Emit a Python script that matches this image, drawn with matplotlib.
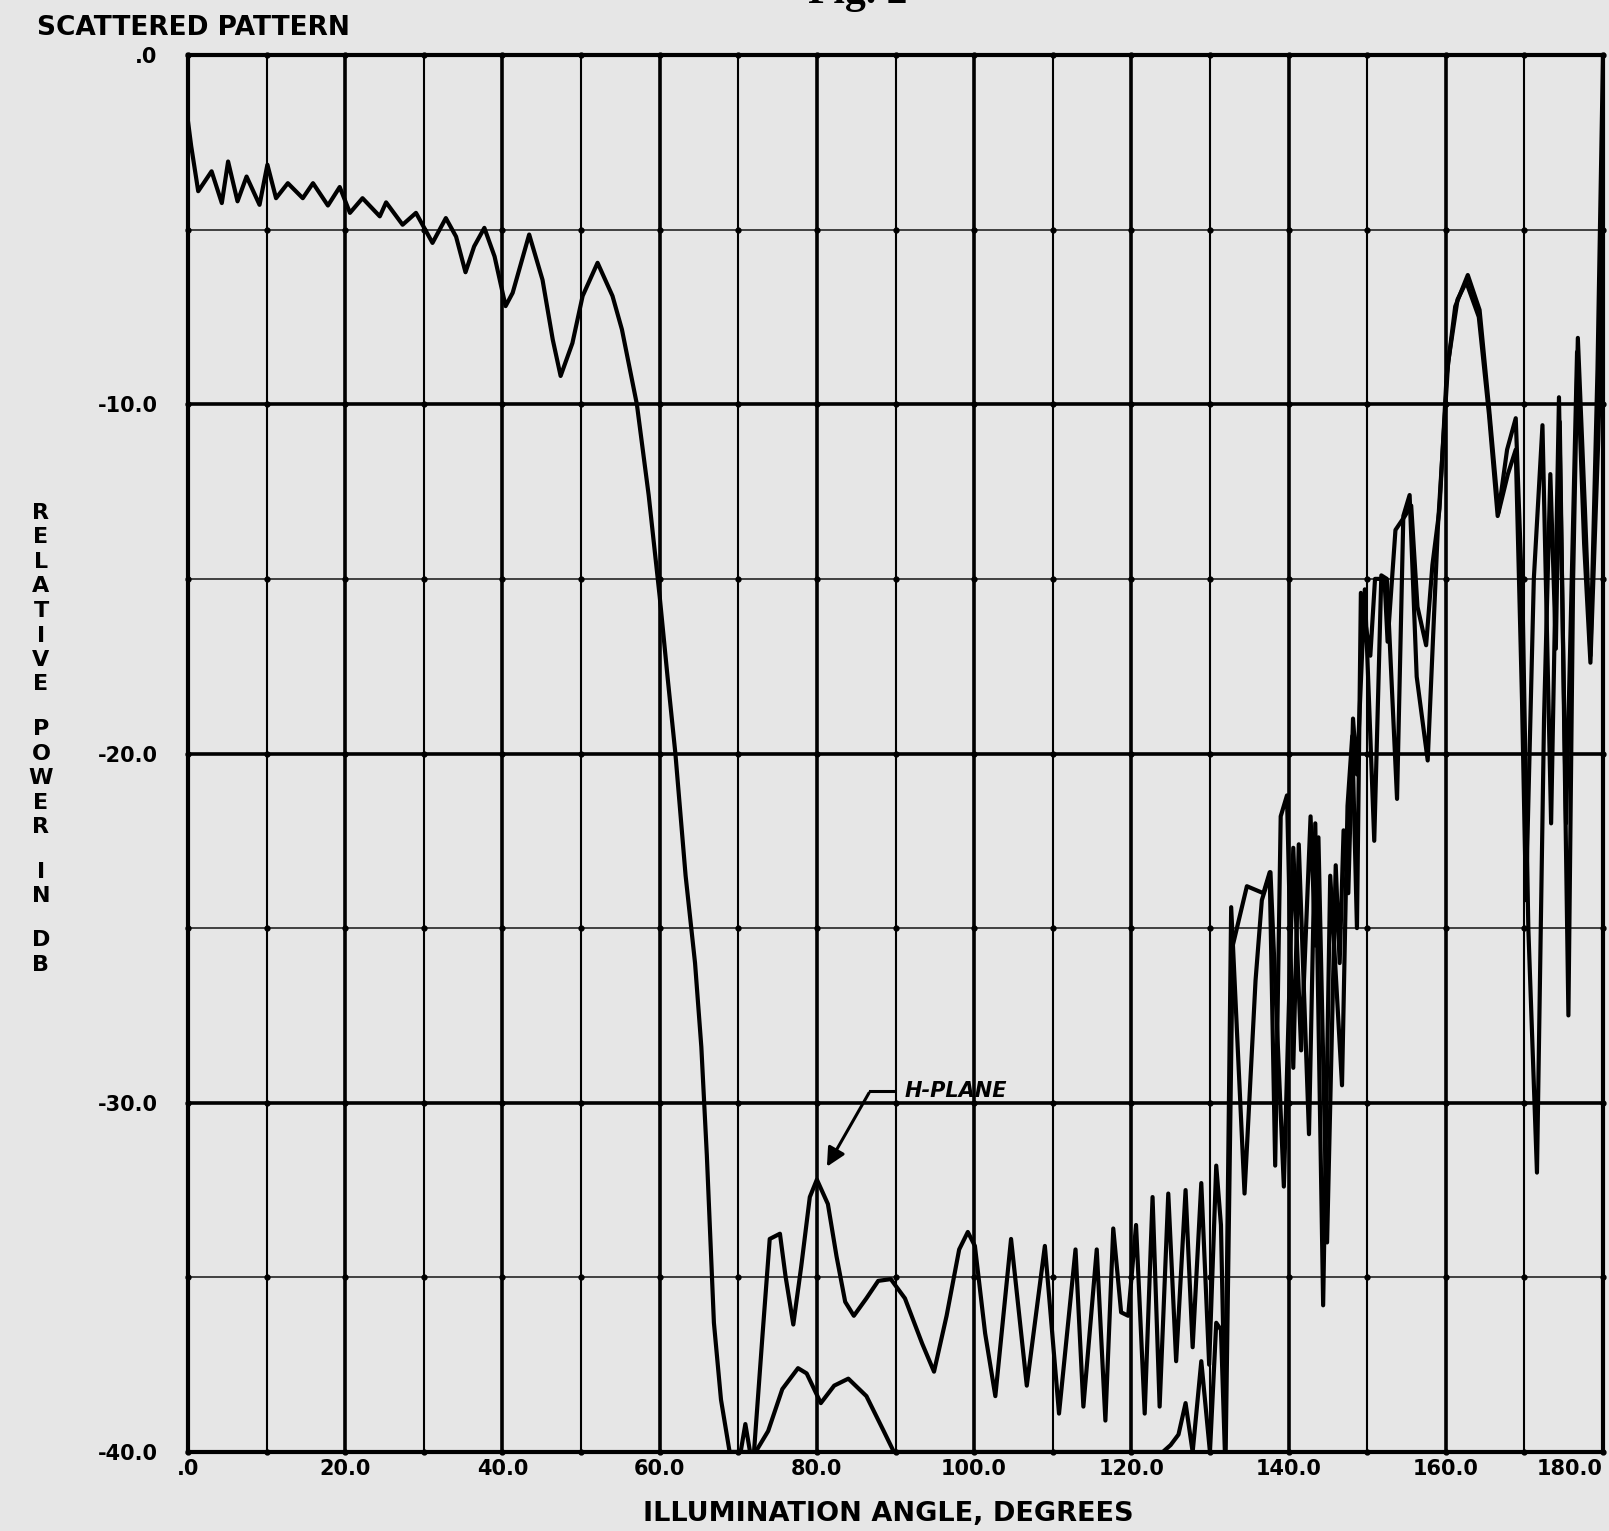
import matplotlib.pyplot as plt
import numpy as np

# main lobe, shared by both planes (0 to the first null near 69 deg)
main_deg = [0.0, 0.4, 1.3, 3.0, 4.3, 5.1, 6.3, 7.45, 9.1, 10.1, 11.2, 12.7, 14.6, 15.9,
            17.8, 19.3, 20.6, 22.2, 24.4, 25.2, 27.3, 29.0, 31.1, 32.8, 34.1, 35.3, 36.4,
            37.7, 39.0, 40.4, 41.3, 43.4, 45.1, 46.4, 47.4, 48.9, 50.2, 52.1, 54.0, 55.2,
            57.1, 58.6, 60.0, 61.0, 62.0, 63.3, 64.5, 65.3, 66.0, 66.9, 67.8, 68.9]
main_db = [-1.9, -2.6, -3.9, -3.33, -4.24, -3.05, -4.19, -3.48, -4.29, -3.14, -4.1, -3.67,
           -4.1, -3.67, -4.31, -3.78, -4.52, -4.1, -4.62, -4.22, -4.86, -4.52, -5.38, -4.67,
           -5.2, -6.22, -5.48, -4.95, -5.77, -7.19, -6.81, -5.14, -6.44, -8.15, -9.19, -8.25,
           -6.9, -5.95, -6.9, -7.86, -10.0, -12.6, -15.5, -17.8, -20.0, -23.5, -26.0, -28.4,
           -31.5, -36.3, -38.5, -40.0]

# H-plane, after the null
h_deg = [68.9, 70.3, 70.9, 71.5, 72.0, 73.1, 74.0, 75.3, 76.0, 77.0, 78.0, 79.1, 80.0,
         81.4, 82.5, 83.6, 84.7, 86.3, 87.8, 89.4, 91.2, 93.4, 94.9, 96.5, 98.1, 99.2,
         100.1, 101.4, 102.7, 104.7, 106.7, 109.0, 110.8, 112.9, 113.9, 115.6, 116.7,
         117.7, 118.7, 119.6, 120.6, 121.7, 122.7, 123.6, 124.7, 125.7, 126.9, 127.8,
         128.9, 129.9, 130.8, 131.4, 132.0, 132.9, 134.7, 136.8, 137.6, 138.3, 139.0,
         139.8, 140.6, 141.3, 142.6, 143.4, 144.4, 145.3, 146.8, 147.5, 148.1, 148.7,
         149.2, 150.4, 151.0, 152.2, 152.6, 153.6, 154.8, 155.6, 156.4, 157.5, 158.3,
         159.2, 160.1, 161.2, 162.8, 164.3, 165.5, 166.7, 167.8, 168.9, 169.8, 170.5,
         171.6, 172.5, 173.3, 174.0, 174.5, 175.6, 176.2, 176.8, 177.7, 178.4, 179.3, 180.0]
h_db = [-40.0, -40.0, -39.2, -40.0, -40.0, -36.6, -33.9, -33.75, -34.95, -36.35, -34.7,
        -32.7, -32.2, -32.9, -34.4, -35.7, -36.1, -35.6, -35.1, -35.05, -35.6, -36.9,
        -37.7, -36.1, -34.2, -33.7, -34.1, -36.6, -38.4, -33.9, -38.1, -34.1, -38.9,
        -34.2, -38.7, -34.2, -39.1, -33.6, -36.0, -36.1, -33.5, -38.9, -32.7, -38.7,
        -32.6, -37.4, -32.5, -37.0, -32.3, -37.5, -31.8, -33.5, -40.0, -25.5, -23.8,
        -24.0, -23.4, -31.8, -21.8, -21.2, -29.0, -22.6, -30.9, -22.0, -35.8, -23.5,
        -29.5, -21.5, -19.5, -25.0, -15.4, -17.2, -15.0, -15.0, -16.8, -13.6, -13.2,
        -12.9, -15.8, -16.9, -14.6, -13.0, -9.2, -7.2, -6.3, -7.3, -10.1, -13.1, -11.3,
        -10.4, -16.0, -25.0, -32.0, -19.0, -12.0, -17.0, -10.5, -27.5, -15.0, -8.1,
        -13.0, -17.2, -9.0, 0.0]

# E-plane, after the null
e_deg = [68.9, 72.2, 73.8, 75.6, 77.6, 78.7, 80.5, 82.2, 84.0, 86.3, 88.5, 89.8, 124.0,
         125.0, 126.0, 126.9, 127.8, 128.9, 130.0, 130.8, 131.4, 131.9, 132.7, 134.4,
         135.8, 136.6, 137.7, 139.4, 140.6, 141.6, 142.8, 143.4, 143.8, 144.9, 146.0,
         146.5, 147.0, 147.6, 148.2, 148.7, 149.7, 150.9, 151.8, 152.5, 153.8, 154.6,
         155.4, 156.3, 157.7, 159.0, 160.3, 161.5, 162.6, 164.2, 165.5, 166.6, 167.9,
         168.9, 169.7, 170.2, 171.2, 172.3, 173.4, 174.4, 175.3, 176.7, 177.6, 178.4,
         179.4, 180.0]
e_db = [-40.0, -40.0, -39.4, -38.2, -37.6, -37.75, -38.6, -38.1, -37.9, -38.4, -39.4,
        -40.0, -40.0, -39.8, -39.5, -38.6, -40.0, -37.4, -40.0, -36.3, -36.5, -40.0,
        -24.4, -32.6, -26.5, -24.2, -23.4, -32.4, -22.7, -28.5, -21.8, -25.5, -22.4,
        -34.0, -23.2, -26.0, -22.2, -24.0, -19.0, -20.6, -15.3, -22.5, -14.9, -15.0,
        -21.3, -13.2, -12.6, -17.8, -20.2, -13.5, -8.8, -7.0, -6.5, -7.5, -10.3, -13.2,
        -12.0, -11.3, -18.5, -24.2, -15.0, -10.6, -22.0, -9.8, -22.0, -8.5, -14.0,
        -17.4, -11.0, -6.0]

x_ticks = [0, 20, 40, 60, 80, 100, 120, 140, 160, 180]
x_labels = ['.0', '20.0', '40.0', '60.0', '80.0', '100.0', '120.0', '140.0', '160.0', '180.0']
y_ticks = [0, -10, -20, -30, -40]
y_labels = ['.0', '-10.0', '-20.0', '-30.0', '-40.0']

paper = '#e6e6e6'
W, H = 1609, 1531

fig = plt.figure(figsize=(W / 100, H / 100), dpi=100, facecolor=paper)
ax = fig.add_axes([188 / W, 1 - 1452 / H, (1603 - 188) / W, (1452 - 55) / H])
ax.set_facecolor(paper)
ax.set_xlim(0, 180)
ax.set_ylim(-40, 0)

# plotter grid: heavy every 20 deg / 10 dB, light in between
for d in range(10, 180, 10):
    ax.axvline(d, color='black', lw=2.6 if d % 20 == 0 else 1.5, zorder=1)
for p in range(-35, 0, 5):
    if p % 10 == 0:
        ax.axhline(p, color='black', lw=2.6, zorder=1)
    else:
        ax.axhline(p, color='#333333', lw=1.3, zorder=1)
gx, gy = np.meshgrid(np.arange(0, 181, 10), np.arange(-40, 1, 5))
ax.plot(gx.ravel(), gy.ravel(), 'o', ms=3.5, color='black', zorder=1, clip_on=False)

style = dict(color='black', lw=3.0, solid_joinstyle='round', solid_capstyle='round', zorder=3)
ax.plot(main_deg, main_db, **style)
ax.plot(h_deg, h_db, **style)
ax.plot(e_deg, e_db, **style)

# H-PLANE callout
ax.plot([86.7, 89.8], [-29.65, -29.65], color='black', lw=2.2, zorder=4)
ax.annotate('', xy=(81.1, -31.9), xytext=(86.8, -29.65),
            arrowprops=dict(arrowstyle='-|>', color='black', lw=2.2, mutation_scale=28))
ax.text(91.2, -29.65, 'H-PLANE', fontsize=15, fontweight='bold', fontstyle='italic',
        va='center', ha='left')

for s in ax.spines.values():
    s.set_linewidth(3.0)

ax.set_xticks(x_ticks, x_labels)
ax.set_yticks(y_ticks, y_labels)
ax.tick_params(length=0, labelsize=15)
ax.tick_params(axis='x', pad=5)
ax.tick_params(axis='y', pad=22)
for lab in ax.get_xticklabels() + ax.get_yticklabels():
    lab.set_fontweight('bold')
ax.get_xticklabels()[-1].set_horizontalalignment('right')

fig.text(37 / W, 1 - 28 / H, 'SCATTERED PATTERN', fontsize=19, fontweight='bold',
         ha='left', va='center')
fig.text(888 / W, 1 - 1514 / H, 'ILLUMINATION ANGLE, DEGREES', fontsize=19.5,
         fontweight='bold', ha='center', va='center')
# page caption, cut by the top edge of the scan
fig.text(858 / W, 1 - 3 / H, 'Fig. 2', fontsize=30, fontweight='bold',
         family='Liberation Serif', ha='center', va='baseline')

# stacked y-axis label, one letter per line
y = 513
for ch in 'RELATIVE POWER IN DB':
    if ch == ' ':
        y += 20
        continue
    fig.text(41 / W, 1 - y / H, ch, fontsize=16, fontweight='bold', ha='center', va='center')
    y += 24.5

fig.savefig('out.png', dpi=100, facecolor=paper)
